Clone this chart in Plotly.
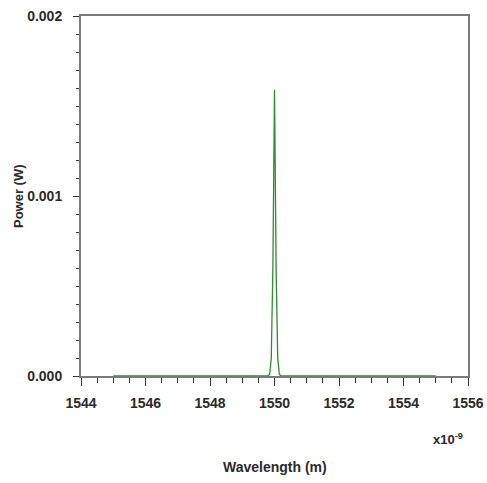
import plotly.graph_objects as go

# Data (wavelength in nm, power in W)
wavelength_nm = [1545.0, 1549.8, 1549.85, 1549.9, 1549.95, 1549.98, 1550.0,
                 1550.02, 1550.05, 1550.1, 1550.15, 1550.2, 1555.0]
power_w = [0.0, 0.0, 0.00001, 0.0001, 0.0006, 0.0012, 0.00159,
           0.0012, 0.0006, 0.0001, 0.00001, 0.0, 0.0]

x_tick_vals = [1544, 1546, 1548, 1550, 1552, 1554, 1556]
x_tick_text = ["1544", "1546", "1548", "1550", "1552", "1554", "1556"]
y_tick_vals = [0.0, 0.001, 0.002]
y_tick_text = ["0.000", "0.001", "0.002"]

FONT = "Liberation Sans"
AX = "#7a7a7a"
TXT = "#2a2a2a"

W, H = 487, 483
# plot area in page pixels: x 81..468, y 16..376
L, T = 81, 16
R = W - 468
B = H - 376
pw, ph = W - L - R, H - T - B


def px(xp):
    return (xp - L) / pw


def py(yp):
    return (T + ph - yp) / ph


fig = go.Figure()
fig.add_trace(go.Scatter(x=wavelength_nm, y=power_w, mode="lines",
                         line=dict(color="#2e8b2e", width=1.3),
                         showlegend=False, hoverinfo="skip"))

fig.update_layout(
    width=W, height=H,
    margin=dict(l=L, r=R, t=T, b=B, autoexpand=False),
    paper_bgcolor="white", plot_bgcolor="white",
    font=dict(family=FONT, size=14, color=TXT),
    xaxis=dict(range=[1544, 1556], tickvals=x_tick_vals, ticktext=x_tick_text,
               automargin=False,
               showgrid=False, zeroline=False, showline=True, linecolor=AX,
               linewidth=2, mirror=True, ticks="outside", ticklen=8,
               tickcolor="#333", tickwidth=1, ticklabelstandoff=5,
               minor=dict(dtick=0.5, ticks="outside", ticklen=5, tickcolor="#333"),
               tickfont=dict(family=FONT, size=14, color=TXT, weight="bold")),
    yaxis=dict(range=[0, 0.002], tickvals=y_tick_vals, ticktext=y_tick_text,
               automargin=False,
               showgrid=False, zeroline=False, showline=True, linecolor=AX,
               linewidth=2, mirror=True, ticks="outside", ticklen=6,
               tickcolor="#333", tickwidth=1, ticklabelstandoff=8,
               minor=dict(dtick=0.0001, ticks="outside", ticklen=3, tickcolor="#333"),
               tickfont=dict(family=FONT, size=14, color=TXT, weight="bold")),
    annotations=[
        dict(text="Power (W)", x=px(18), y=py(196), xref="paper", yref="paper",
             xanchor="center", yanchor="middle",
             showarrow=False, textangle=-90,
             font=dict(family=FONT, size=13, color=TXT, weight="bold")),
        dict(text="Wavelength (m)", x=px(275), y=py(467), xref="paper", yref="paper",
             xanchor="center", yanchor="middle",
             showarrow=False, font=dict(family=FONT, size=14, color=TXT, weight="bold")),
        dict(text="x10<sup>-9</sup>", x=px(448), y=py(439), xref="paper", yref="paper",
             xanchor="center", yanchor="middle",
             showarrow=False, font=dict(family=FONT, size=13, color=TXT, weight="bold")),
    ],
)

fig.write_html("out.html", config={"displayModeBar": False},
               post_script="document.body.style.margin='0';document.body.style.overflow='hidden';")
